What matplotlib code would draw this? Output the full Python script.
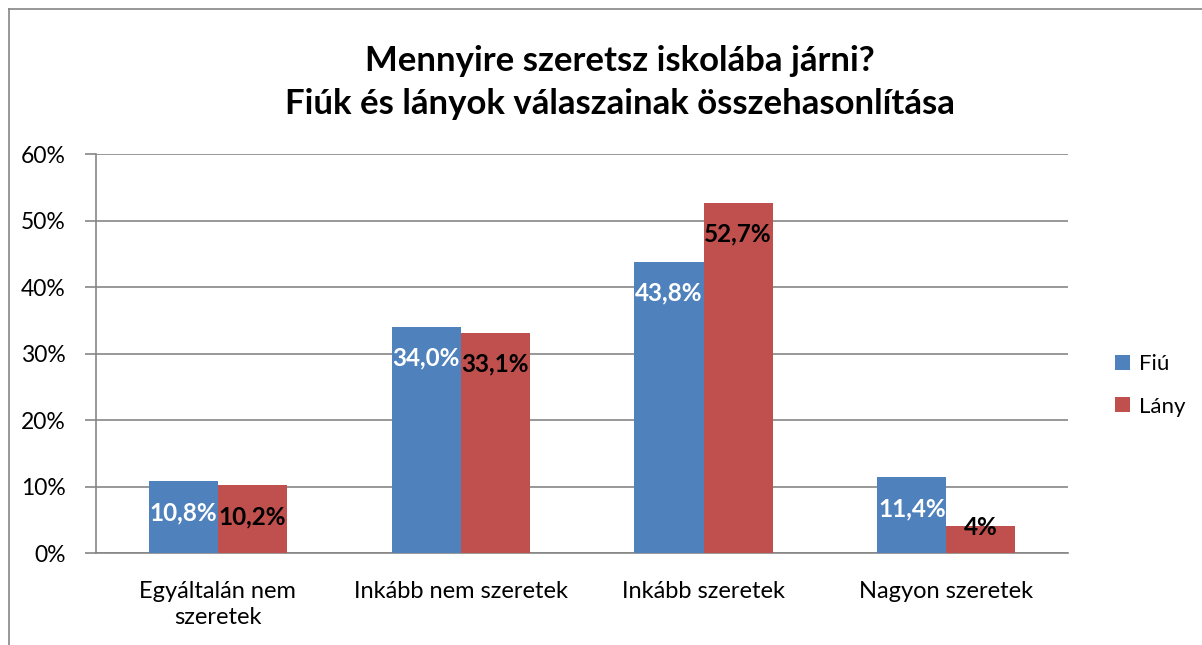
import numpy as np
import matplotlib.pyplot as plt
from matplotlib.lines import Line2D

categories = ['Egyáltalán nem\nszeretek', 'Inkább nem szeretek', 'Inkább szeretek', 'Nagyon szeretek']
fiu = [10.8, 34.0, 43.8, 11.4]
lany = [10.2, 33.1, 52.7, 4.0]
fiu_labels = ['10,8%', '34,0%', '43,8%', '11,4%']
lany_labels = ['10,2%', '33,1%', '52,7%', '4%']

plt.rcParams['font.family'] = ['Lato', 'DejaVu Sans']

fig = plt.figure(figsize=(12.02, 6.45), dpi=100)
ax = fig.add_axes([0.0799, 0.1426, 0.8086, 0.6186])

x = np.arange(len(categories))
w = 0.284
b1 = ax.bar(x - w / 2, fiu, w, color='#4F81BD', label='Fiú', zorder=3)
b2 = ax.bar(x + w / 2, lany, w, color='#C0504D', label='Lány', zorder=3)

# címkék a oszlopok tetején belül
for bars, labs, col in [(b1, fiu_labels, 'white'), (b2, lany_labels, 'black')]:
    for rect, lab in zip(bars, labs):
        h = rect.get_height()
        y = h - 4.7 if h > 8 else h - 0.2
        ax.text(rect.get_x() + rect.get_width() / 2, y, lab, ha='center', va='center',
                color=col, fontsize=17.5, fontweight='bold', zorder=4)

ax.set_ylim(0, 60)
ax.set_xlim(-0.5, 3.5)
ax.set_yticks(range(0, 61, 10))
ax.set_yticklabels([f'{v}%' for v in range(0, 61, 10)], fontsize=16.5)
ax.set_xticks(x)
ax.set_xticklabels(categories, fontsize=17, linespacing=1.3)
ax.tick_params(axis='x', length=0, pad=20)
ax.tick_params(axis='y', length=8, width=1.2, color='#868686', pad=14)
ax.yaxis.grid(True, color='#868686', linewidth=1.2, zorder=0)
for s in ['top', 'right']:
    ax.spines[s].set_visible(False)
for s in ['left', 'bottom']:
    ax.spines[s].set_color('#868686')
    ax.spines[s].set_linewidth(1.2)

ax.legend(loc='center left', bbox_to_anchor=(1.028, 0.42), frameon=False, fontsize=16,
          handlelength=0.65, handleheight=0.65, handletextpad=0.4, labelspacing=1.0)

fig.text(0.516, 0.905, 'Mennyire szeretsz iskolába járni?', ha='center', va='center',
         fontsize=25, fontweight='bold')
fig.text(0.516, 0.838, 'Fiúk és lányok válaszainak összehasonlítása', ha='center', va='center',
         fontsize=25, fontweight='bold')

# keret
bx = 9 / 1202
by = 1 - 9 / 645
fig.add_artist(Line2D([bx, 1.0], [by, by], color='#868686', linewidth=1.2, transform=fig.transFigure))
fig.add_artist(Line2D([bx, bx], [0, by], color='#868686', linewidth=1.2, transform=fig.transFigure))

fig.savefig('out.png', dpi=100)
